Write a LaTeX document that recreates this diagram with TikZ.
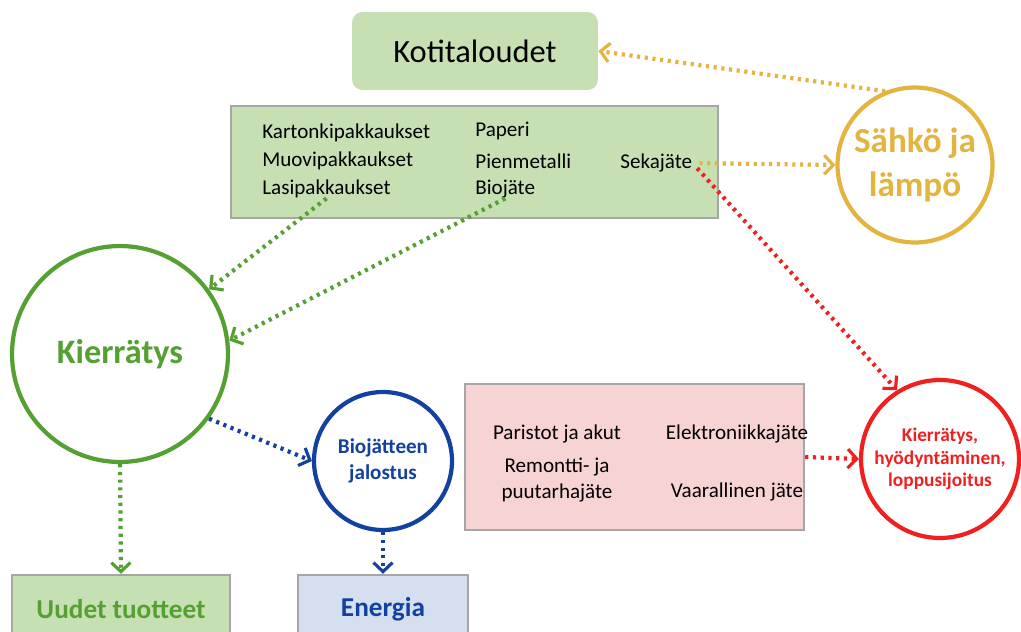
\documentclass[tikz,border=0pt]{standalone}
\usepackage{fontspec}
\setmainfont{Carlito}
\usetikzlibrary{arrows.meta}
\definecolor{leafgreen}{HTML}{C6E0B4}
\definecolor{boxgray}{HTML}{A6A6A6}
\definecolor{ringgreen}{HTML}{55A032}
\definecolor{goldline}{HTML}{E3B440}
\definecolor{bioblue}{HTML}{1241A0}
\definecolor{hotred}{HTML}{F02020}
\definecolor{rosefill}{HTML}{F8D3D3}
\definecolor{skyfill}{HTML}{D6DFEF}
\begin{document}
\begin{tikzpicture}
	[x=0.02cm,y=-0.02cm,
	box/.style={rectangle,draw=boxgray,line width=1.4pt,inner sep=0pt},
	item/.style={font=\fontsize{12}{14}\selectfont,inner sep=0pt,anchor=west},
	plain/.style={font=\fontsize{12}{15}\selectfont,inner sep=0pt,align=center},
	ring/.style={circle,line width=2.4pt,fill=white,inner sep=0pt,align=center},
	flow/.style={line width=2.4pt,dash pattern=on 1.8pt off 2.6pt,
		-{Straight Barb[length=1.8mm,width=3.8mm,line width=1.8pt]}}
	]
	\useasboundingbox (0,0) rectangle (1021,632);
	\clip (0,0) rectangle (1021,632);

	\node[fill=leafgreen,rounded corners=6pt,minimum width=4.92cm,minimum height=1.56cm,
		font=\fontsize{18.5}{22}\selectfont] (koti) at (475,51) {Kotitaloudet};

	\node[box,fill=leafgreen,minimum width=9.74cm,minimum height=2.24cm] (jakeet) at (474.5,162) {};
	\node[item] (kartonki) at (262,133) {Kartonkipakkaukset};
	\node[item] (muovi) at (262,161) {Muovipakkaukset};
	\node[item] (lasi) at (262,189) {Lasipakkaukset};
	\node[item] (paperi) at (475,131) {Paperi};
	\node[item] (metalli) at (475,161) {Pienmetalli};
	\node[item] (bio) at (475,189) {Biojäte};
	\node[item] (seka) at (620,163) {Sekajäte};

	\node[ring,draw=goldline,text=goldline,minimum size=3.1cm,
		font=\bfseries\fontsize{20}{25}\selectfont] (sahko) at (915,165) {Sähkö ja\\lämpö};
	\node[ring,draw=ringgreen,text=ringgreen,minimum size=4.32cm,
		font=\bfseries\fontsize{19.5}{22}\selectfont] (kierr) at (120,354) {Kierrätys};
	\node[ring,draw=bioblue,text=bioblue,minimum size=2.76cm,
		font=\bfseries\fontsize{12}{15}\selectfont] (bioj) at (383,461) {Biojätteen\\jalostus};
	\node[ring,draw=hotred,text=hotred,minimum size=3.16cm,
		font=\bfseries\fontsize{11}{13}\selectfont] (loppu) at (940,459) {Kierrätys,\\hyödyntäminen,\\loppusijoitus};

	\node[box,fill=rosefill,minimum width=6.78cm,minimum height=2.92cm] (vaara) at (634.5,457) {};
	\node[plain] (akut) at (557,434) {Paristot ja akut};
	\node[plain] (remontti) at (557,480) {Remontti- ja\\puutarhajäte};
	\node[plain] (elektro) at (737,434) {Elektroniikkajäte};
	\node[plain] (vaarallinen) at (737,492) {Vaarallinen jäte};

	\node[box,fill=leafgreen,minimum width=4.36cm,minimum height=1.36cm,text=ringgreen,
		font=\bfseries\fontsize{15.5}{18}\selectfont] (uudet) at (121,609) {Uudet tuotteet};
	\node[box,fill=skyfill,minimum width=3.4cm,minimum height=1.36cm,text=bioblue,
		font=\bfseries\fontsize{15.5}{18}\selectfont] (energia) at (383,609) {Energia};

	\draw[flow,goldline] (sahko.112) -- (koti.east);
	\draw[flow,goldline,shorten <=4pt] (seka.east) -- (sahko.west);
	\draw[flow,hotred,shorten <=4pt] (seka.east) -- (loppu.122);
	\draw[flow,ringgreen] (lasi.south) -- (kierr.36);
	\draw[flow,ringgreen] (bio.south) -- (kierr.7);
	\draw[flow,bioblue] (kierr.-36) -- (bioj.west);
	\draw[flow,ringgreen] (kierr.south) -- (uudet.north);
	\draw[flow,bioblue] (bioj.south) -- (energia.north);
	\draw[flow,hotred] (vaara.east) -- (loppu.west);
\end{tikzpicture}
\end{document}
